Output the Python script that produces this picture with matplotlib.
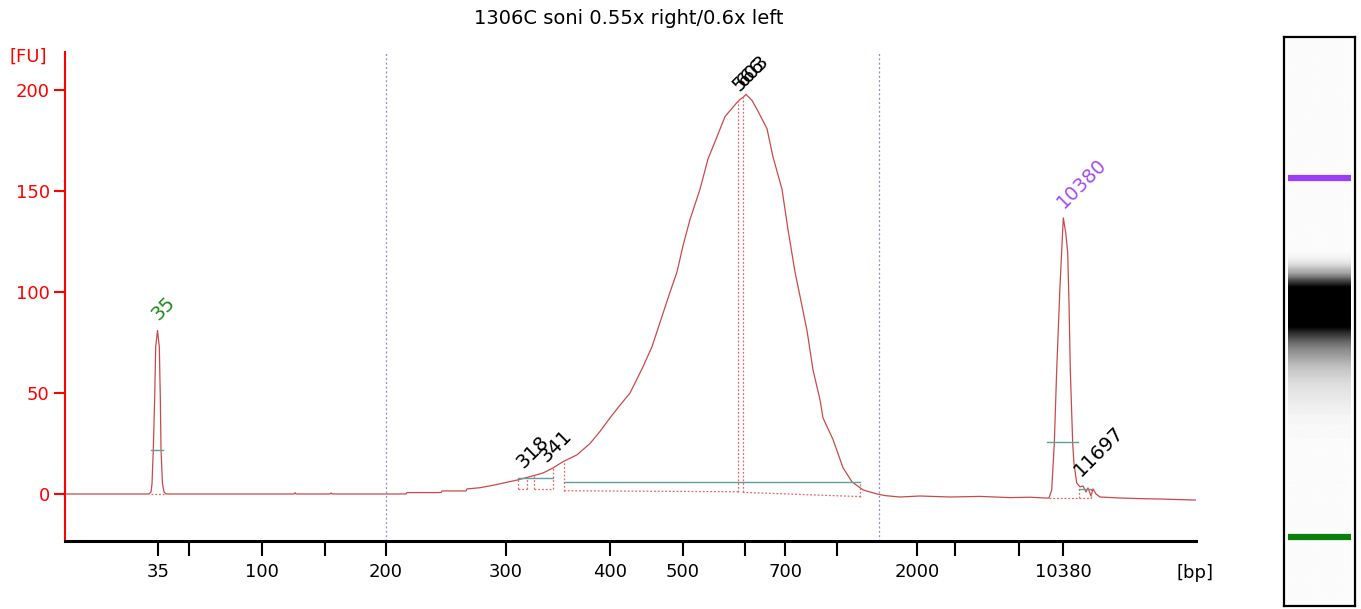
import numpy as np
import matplotlib
matplotlib.use("Agg")
import matplotlib.pyplot as plt

# Eje x: tiempo de migración (s); las etiquetas son los tamaños de la escalera
ladder_t = [15.8, 18.9, 26.2, 32.5, 38.6, 50.6, 61.0, 68.3, 74.5, 78.5, 83.7, 91.7, 95.5, 101.9, 106.3]
ladder_bp = ['35', '', '100', '', '200', '300', '400', '500', '', '700', '', '2000', '', '', '10380']

# Traza del electroferograma (tiempo, FU)
trace_t = [6.5, 14.9, 15.1, 15.2, 15.33, 15.47, 15.57, 15.75, 15.93, 16.03, 16.1, 16.25, 16.4, 16.6,
           29.4, 29.5, 29.6, 33.0, 33.1, 33.2, 40.6, 40.7, 44.1, 44.2, 46.6, 46.7, 48.0, 49.5, 50.5,
           51.8, 53.3, 54.3, 55.3, 56.3, 57.7, 59.0, 60.0, 61.0, 62.0, 63.0, 64.3, 65.2, 66.0, 67.0,
           67.7, 68.3, 69.0, 70.0, 70.8, 71.7, 72.5, 73.7, 74.0, 74.3, 74.6, 74.9, 75.2, 75.7, 76.7,
           77.3, 78.2, 78.8, 79.5, 80.0, 80.7, 81.3, 82.0, 82.3, 83.3, 84.3, 85.2, 86.3, 87.7, 88.5,
           90.0, 92.0, 95.0, 98.0, 101.0, 103.0, 104.5, 104.9, 105.17, 105.43, 105.67, 106.0, 106.33,
           106.57, 106.77, 106.9, 107.03, 107.27, 107.4, 107.67, 108.0, 108.3, 108.6, 108.8, 109.1,
           109.3, 109.6, 110.0, 112.0, 114.0, 116.0, 118.0, 119.6]
trace_fu = [0, 0, 1, 5, 22, 48, 73, 81, 73, 48, 22, 5, 1, 0,
            0, 0.6, 0, 0, 0.5, 0, 0, 0.7, 0.7, 1.5, 1.5, 2.5, 3.1, 4.5, 5.6,
            7, 9, 10.4, 12.9, 16, 19.4, 25, 31, 37.7, 44, 50, 63, 73, 85, 100,
            110, 123, 136, 151, 166, 177, 187, 194, 195.5, 196.5, 198, 196.5, 195, 190.6, 181,
            167, 151, 131, 110, 98, 81, 61.5, 46.7, 37.7, 27, 13, 6, 2, 0, -0.8,
            -1.5, -1.0, -1.5, -1.2, -1.8, -1.6, -2.0, -2.0, 2, 25, 61.5, 103, 136.8,
            129.5, 119.6, 94.8, 61.5, 25, 15, 5.5, 3.5, 4, 1, 3,
            -1, 2.5, 0, -1.5, -2.0, -2.3, -2.5, -2.8, -3.0]

# Picos etiquetados
peak_t = [15.75, 52.3, 54.6, 73.83, 74.27, 106.33, 108.0]
peak_fu = [81, 8, 11, 194.5, 196.5, 136.8, 4]
peak_lbl = ['35', '318', '341', '566', '603', '10380', '11697']
peak_col = ['#1f8a1f', 'black', 'black', 'black', 'black', '#a04cf2', 'black']

# Marcas de pico (líneas verde azulado)
mark_t0 = [15.07, 104.67, 107.9, 51.83, 56.4]
mark_t1 = [16.33, 107.83, 109.07, 55.27, 86.0]
mark_fu = [22, 25.8, 2.5, 7.8, 5.7]

# Regiones (cajas punteadas): inicio, fin, base izq., base der., alto izq., alto der.
reg_t0 = [15.07, 51.83, 53.4, 56.4, 74.27, 104.9, 107.9]
reg_t1 = [16.4, 52.67, 55.27, 73.83, 86.0, 107.9, 109.07]
reg_b0 = [0, 2.5, 2.5, 1.6, 0.8, -2.0, -2.0]
reg_b1 = [0, 2.5, 2.5, 1.1, -1.3, -2.0, -2.0]
reg_h0 = [0, 7.5, 9.5, 16, 196.5, -2.0, 2.5]
reg_h1 = [0, 7.5, 12.9, 194.5, 5.8, -2.0, 2.5]

# Límites de la región de interés
roi_t = [38.6, 87.9]

# Marcadores del gel
marker_t = [15.8, 106.3]
marker_col = ['#0a7f0a', '#9b3df5']

W, H = 1361, 609
fig = plt.figure(figsize=(W / 100, H / 100), dpi=100)
ax = fig.add_axes([65 / W, 68 / H, 1131 / W, 489 / H])

trace_color = '#c84a4a'
ax.plot(trace_t, trace_fu, color=trace_color, lw=0.9)

for t in roi_t:
    ax.axvline(t, color='#8888d0', ls=(0, (1.5, 2)), lw=0.9)

for t0, t1, y in zip(mark_t0, mark_t1, mark_fu):
    ax.plot([t0, t1], [y, y], color='#5f9f9a', lw=1.0)

dot = dict(color='#e06868', ls=(0, (1.5, 1.5)), lw=0.9)
for t0, t1, b0, b1, h0, h1 in zip(reg_t0, reg_t1, reg_b0, reg_b1, reg_h0, reg_h1):
    ax.plot([t0, t1], [b0, b1], **dot)
    if h0 != b0:
        ax.plot([t0, t0], [b0, h0], **dot)
    if h1 != b1:
        ax.plot([t1, t1], [b1, h1], **dot)

for t, y, s, c in zip(peak_t, peak_fu, peak_lbl, peak_col):
    ax.annotate(s, (t, y), xytext=(0.7, 6.5), textcoords='offset points',
                rotation=45, rotation_mode='anchor', ha='left', va='baseline',
                color=c, fontsize=14)

ax.set_xlim(6.5, 119.6)
ax.set_ylim(-23.3, 219)
ax.set_xticks(ladder_t)
ax.set_xticklabels(ladder_bp)
ax.set_yticks([0, 50, 100, 150, 200])

for s in ['top', 'right']:
    ax.spines[s].set_visible(False)
ax.spines['left'].set_color('red')
ax.spines['left'].set_linewidth(1.5)
ax.spines['bottom'].set_color('black')
ax.spines['bottom'].set_linewidth(2.2)
ax.tick_params(axis='y', colors='red', length=8, width=1.5, labelsize=13, pad=3)
ax.tick_params(axis='x', colors='black', length=11, width=1.5, labelsize=13, pad=5)

fig.text(28 / W, 1 - 57 / H, '[FU]', color='red', fontsize=13, ha='center', va='center')
fig.text(1195 / W, 1 - 573 / H, '[bp]', color='black', fontsize=13, ha='center', va='center')
fig.text(629 / W, 1 - 18 / H, '1306C soni 0.55x right/0.6x left', fontsize=14,
         ha='center', va='center')

# Carril de gel
gx = fig.add_axes([1284 / W, 3 / H, 71 / W, 569 / H])
g_t0, g_t1 = -1.6, 141.8
rows = np.linspace(g_t0, g_t1, 800)
fu = np.interp(rows, trace_t, trace_fu)
fu[(rows < 20) | (rows > 100)] = 0
dark = np.clip(fu / 130.0, 0, 1) ** 0.85
gray = 0.985 - 0.985 * dark
img = np.repeat(gray[:, None], 2, axis=1)
gx.imshow(img, cmap='gray', vmin=0, vmax=1, aspect='auto', origin='lower',
          extent=[0.06, 0.94, g_t0, g_t1], interpolation='bilinear')
for t, c in zip(marker_t, marker_col):
    gx.plot([0.06, 0.94], [t, t], color=c, lw=4.5, solid_capstyle='butt')
gx.set_xlim(0, 1)
gx.set_ylim(g_t0, g_t1)
gx.set_facecolor('#fdfdfd')
gx.set_xticks([])
gx.set_yticks([])
for s in gx.spines.values():
    s.set_linewidth(1.6)
    s.set_color('black')

fig.savefig('out.png', dpi=100)
